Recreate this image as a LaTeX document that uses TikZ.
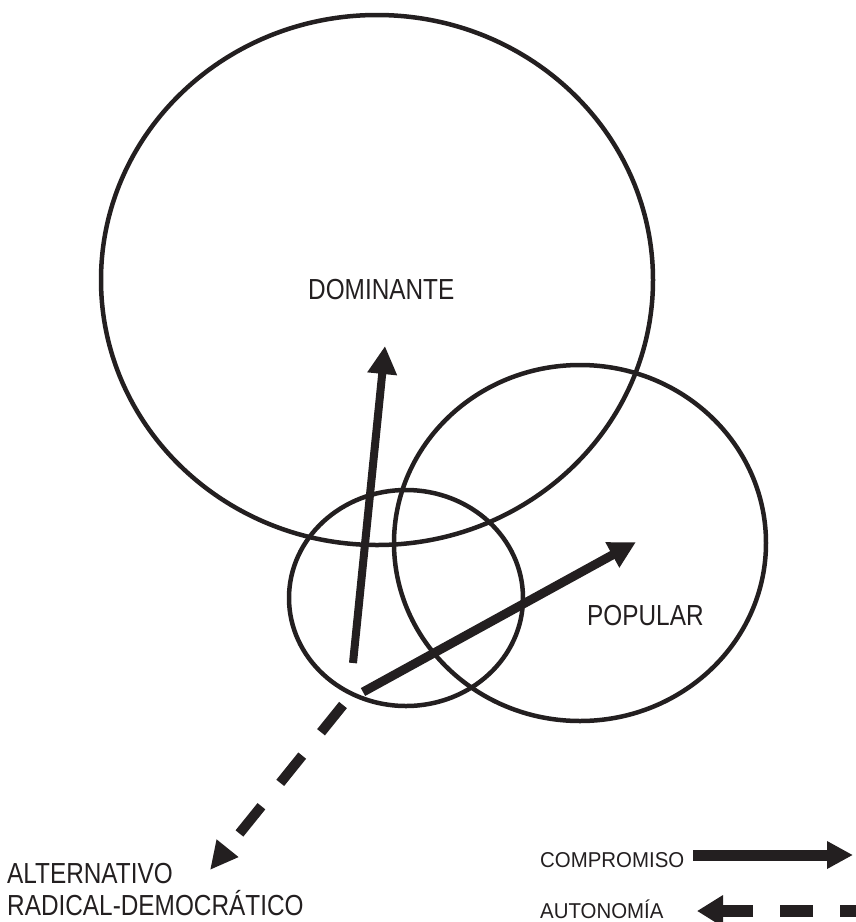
\documentclass[tikz,border=0pt]{standalone}
\usepackage{fontspec}
\newfontfamily\mainf[FakeStretch=0.84]{Liberation Sans}
\newfontfamily\legf[FakeStretch=0.95]{Liberation Sans}
\usetikzlibrary{arrows.meta,shapes.geometric}
\definecolor{ink}{HTML}{231F20}
\begin{document}
\begin{tikzpicture}[x=1pt,y=-1pt,
  ring/.style={draw=ink, ellipse, line width=4.5pt, inner sep=0pt, outer sep=0pt},
  lbl/.style={anchor=base west, inner sep=0pt, text=ink, font=\mainf\fontsize{29}{34}\selectfont},
  leg/.style={anchor=base west, inner sep=0pt, text=ink, font=\legf\fontsize{21.5}{25}\selectfont},
  solidarrow/.style={draw=ink, line cap=butt},
]
\useasboundingbox (0,0) rectangle (856,922);

% circles
\node[ring, minimum width=552pt, minimum height=530pt] (dom) at (377,280) {};
\node[ring, minimum width=372pt, minimum height=356pt] (pop) at (580,543) {};
\node[ring, minimum width=234pt, minimum height=216pt] (alt) at (406,598) {};

% labels
\node[lbl] (tdom) at (308,299) {DOMINANTE};
\node[lbl] (tpop) at (587,625) {POPULAR};
\node[lbl] (talt1) at (7,883) {ALTERNATIVO};
\node[lbl] (talt2) at (7,915) {RADICAL-DEMOCRÁTICO};

% arrows
\coordinate (u1) at (353,663);
\coordinate (u2) at (385,346);
\coordinate (r1) at (363,692);
\coordinate (r2) at (636,542);
\coordinate (d1) at (343,705);
\coordinate (d2) at (210,870);
\draw[solidarrow, line width=8pt, -{Triangle[length=28pt,width=28pt]}] (u1) -- (u2);
\draw[solidarrow, line width=9pt, -{Triangle[length=27pt,width=27pt]}] (r1) -- (r2);
\draw[solidarrow, line width=10pt, dash pattern=on 35pt off 30pt, -{Triangle[length=28pt,width=26pt]}] (d1) -- (d2);

% legend
\node[leg] (lcomp) at (540,867) {COMPROMISO};
\node[leg] (laut) at (540,918) {AUTONOMÍA};
\coordinate (c1) at (693,855);
\coordinate (c2) at (853,855);
\coordinate (a1) at (856,911);
\coordinate (a2) at (697,911);
\draw[solidarrow, line width=11pt, -{Triangle[length=26pt,width=26pt]}] (c1) -- (c2);
\draw[solidarrow, line width=12pt, dash pattern=on 33pt off 27pt, dash phase=17pt, -{Triangle[length=26pt,width=30pt]}] (a1) -- (a2);
\end{tikzpicture}
\end{document}
